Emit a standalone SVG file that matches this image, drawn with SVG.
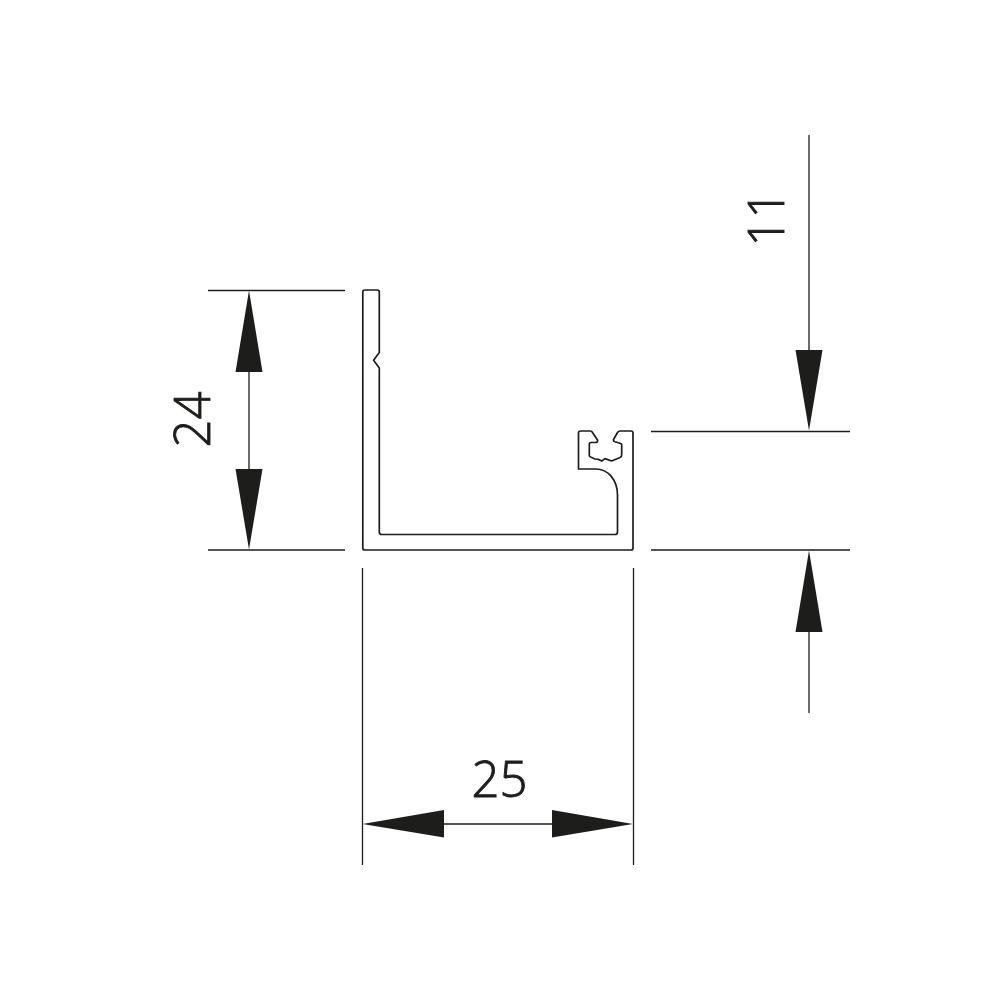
<svg xmlns="http://www.w3.org/2000/svg" width="1000" height="1000" viewBox="0 0 1000 1000">
<style>
.l{stroke:#1d1d1b;stroke-width:1.3;fill:none}
.a{fill:#1d1d1b;stroke:none}
.t{font-family:"Open Sans",sans-serif;font-weight:300;font-size:49px;fill:#1d1d1b;stroke:#1d1d1b;stroke-width:.9;text-anchor:middle}
</style>
<rect width="1000" height="1000" fill="#fff"/>
<g id="profile">
<path d="M362.800 292Q362.800 290 364.800 290H377.300Q379.300 290 379.300 292V352.500L373.600 360.300L379.300 368V532Q379.300 534.500 381.800 534.500H615Q617.500 534.500 617.500 532V495C617.500 480 608 469 596 469H578.500V433Q578.500 431 580.500 431H590.500Q591.700 431 592.500 432.500L597.500 440Q598 442.500 595.500 442.500H591Q589.300 442.500 589.300 444.500V455.500Q589.300 456.700 591 457.200L595 459L598.300 459.300L601.700 461L605 458.600L611.700 461L620 457.500Q621.700 456.700 621.700 455V445Q621.700 443.300 620 443.300L615 441.700Q613 441 613.500 439.500L617.500 432.500Q618.300 431 620 431H631Q633 431 633 433V548Q633 550 631 550H364.800Q362.800 550 362.800 548Z" fill="none" stroke="#1d1d1b" stroke-width="1.7" stroke-linejoin="round"/>
</g>
<g id="connectors">
<path class="l" d="M208 290.500H345M208 550H345M249 300V540"/>
<path class="l" d="M362.500 568V865M633.500 568V865M374 824H622"/>
<path class="l" d="M651 431.500H850M651 550H850M809 135V420M809 560V713"/>
<path class="a" d="M249 290.500L262.500 372H235.500ZM249 549.500L235.500 469H262.500Z"/>
<path class="a" d="M362.500 824L444 810V837.500ZM633 824L552 810V837.500Z"/>
<path class="a" d="M809 430.500L795.500 350H822.500ZM809 550.500L822.500 632H795.500Z"/>
</g>
<g id="labels">
<text class="t" x="499.500" y="797">25</text>
<text class="t" transform="translate(209.500 419.500) rotate(-90)">24</text>
<text class="t" transform="translate(783.500 218.500) rotate(-90)">11</text>
</g>
</svg>
